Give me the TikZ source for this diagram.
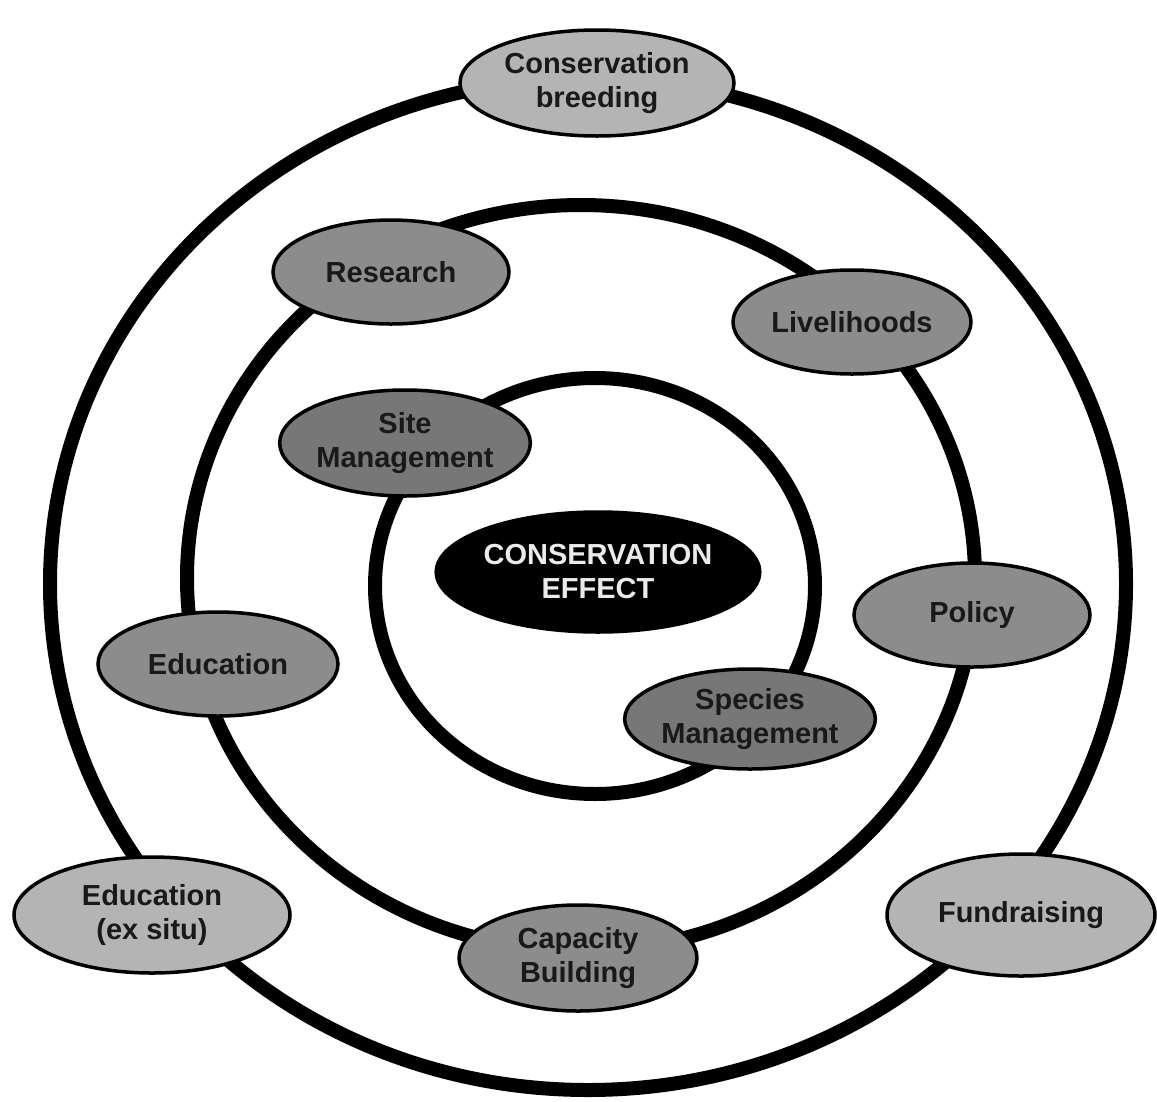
\documentclass[tikz,border=0pt]{standalone}
\usepackage{fontspec}
\setmainfont{Liberation Sans}
\usetikzlibrary{shapes.geometric}
\definecolor{lightg}{HTML}{B4B4B4}
\definecolor{midg}{HTML}{8C8C8C}
\definecolor{darkg}{HTML}{777777}
\tikzset{
  ring/.style={draw=black, line width=14pt},
  bub/.style={ellipse, draw=black, line width=3.5pt, inner sep=0pt, align=center,
    font=\fontsize{29}{34}\selectfont\bfseries, text=black!90},
  outerbub/.style={bub, fill=lightg},
  midbub/.style={bub, fill=midg},
  innerbub/.style={bub, fill=darkg},
  corebub/.style={bub, fill=black, text=white!92!black}
}
\begin{document}
\begin{tikzpicture}[x=1pt, y=-1pt]
\useasboundingbox (0,0) rectangle (1157,1101);
\fill[white] (0,0) rectangle (1157,1101);
% rings
\draw[ring] (588,584) ellipse [x radius=538pt, y radius=506pt];
\draw[ring] (581,578) ellipse [x radius=394pt, y radius=373pt];
\draw[ring] (595,586) ellipse [x radius=220pt, y radius=208pt];
% outer ring nodes
\node[outerbub, minimum width=274pt, minimum height=106pt] (breed) at (597,83) {Conservation\\breeding};
\node[outerbub, minimum width=276pt, minimum height=116pt] (eduex) at (152,915) {Education\\(ex situ)};
\node[outerbub, minimum width=268pt, minimum height=122pt] (fund) at (1021,915) {Fundraising};
% middle ring nodes
\node[midbub, minimum width=236pt, minimum height=104pt] (research) at (391,272) {Research};
\node[midbub, minimum width=238pt, minimum height=104pt] (liveli) at (852,322) {Livelihoods};
\node[midbub, minimum width=236pt, minimum height=104pt] (policy) at (972,615) {Policy};
\node[midbub, minimum width=240pt, minimum height=104pt] (edu) at (218,664) {Education};
\node[midbub, minimum width=238pt, minimum height=106pt] (capacity) at (578,958) {Capacity\\Building};
% inner ring nodes
\node[innerbub, minimum width=236pt, minimum height=106pt] (site) at (405,443) {Site\\Management};
\node[innerbub, minimum width=240pt, minimum height=100pt] (species) at (750,719) {Species\\Management};
% core
\node[corebub, minimum width=312pt, minimum height=120pt] (core) at (598,572) {CONSERVATION\\EFFECT};
\end{tikzpicture}
\end{document}
